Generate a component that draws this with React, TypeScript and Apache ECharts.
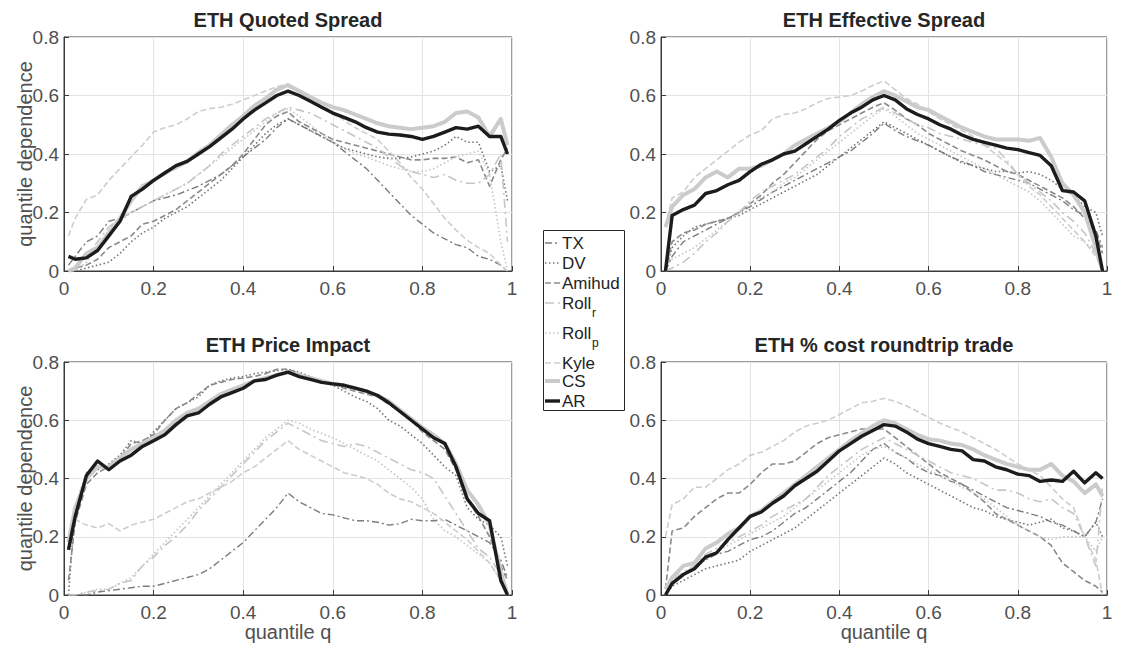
import React, { useEffect, useRef } from "react";
import * as echarts from "echarts";

// quantile grid shared by every series
const Q = [0.01, 0.025, 0.05, 0.075, 0.1, 0.125, 0.15, 0.175, 0.2, 0.225, 0.25, 0.275, 0.3, 0.325, 0.35, 0.375, 0.4, 0.425, 0.45, 0.475, 0.5, 0.525, 0.55, 0.575, 0.6, 0.625, 0.65, 0.675, 0.7, 0.725, 0.75, 0.775, 0.8, 0.825, 0.85, 0.875, 0.9, 0.925, 0.95, 0.975, 0.99];

const SERIES_NAMES = ["TX", "DV", "Amihud", "Roll_r", "Roll_p", "Kyle", "CS", "AR"];
const PANEL_TITLES = ["ETH Quoted Spread", "ETH Effective Spread", "ETH Price Impact", "ETH % cost roundtrip trade"];
const X_TICKS = [0, 0.2, 0.4, 0.6, 0.8, 1];
const Y_TICKS = [0, 0.2, 0.4, 0.6, 0.8];

// ---- ETH Quoted Spread
const quotedTX = [0.02, 0.05, 0.1, 0.12, 0.17, 0.18, 0.2, 0.22, 0.24, 0.25, 0.26, 0.275, 0.29, 0.31, 0.33, 0.36, 0.39, 0.42, 0.45, 0.49, 0.52, 0.5, 0.48, 0.46, 0.44, 0.41, 0.38, 0.35, 0.31, 0.27, 0.23, 0.19, 0.16, 0.13, 0.11, 0.09, 0.08, 0.05, 0.04, 0.02, 0.0];
const quotedDV = [0.0, 0.0, 0.01, 0.02, 0.03, 0.06, 0.1, 0.13, 0.15, 0.18, 0.2, 0.22, 0.25, 0.28, 0.31, 0.35, 0.39, 0.43, 0.47, 0.5, 0.52, 0.5, 0.48, 0.46, 0.44, 0.42, 0.41, 0.4, 0.39, 0.385, 0.385, 0.39, 0.4, 0.41, 0.43, 0.46, 0.44, 0.44, 0.34, 0.36, 0.24];
const quotedAmihud = [0.0, 0.01, 0.02, 0.04, 0.08, 0.1, 0.12, 0.16, 0.17, 0.19, 0.21, 0.24, 0.27, 0.3, 0.33, 0.36, 0.4, 0.45, 0.5, 0.53, 0.545, 0.51, 0.49, 0.47, 0.45, 0.44, 0.43, 0.42, 0.41, 0.4, 0.39, 0.38, 0.38, 0.385, 0.385, 0.39, 0.37, 0.38, 0.29, 0.38, 0.42];
const quotedRollR = [0.0, 0.01, 0.05, 0.1, 0.15, 0.18, 0.2, 0.22, 0.24, 0.26, 0.28, 0.3, 0.33, 0.36, 0.4, 0.43, 0.46, 0.49, 0.52, 0.54, 0.56, 0.55, 0.54, 0.52, 0.5, 0.48, 0.46, 0.44, 0.42, 0.39, 0.36, 0.34, 0.33, 0.32, 0.33, 0.31, 0.3, 0.3, 0.33, 0.4, 0.1];
const quotedRollP = [0.0, 0.0, 0.03, 0.08, 0.14, 0.17, 0.2, 0.22, 0.24, 0.26, 0.28, 0.3, 0.33, 0.36, 0.39, 0.42, 0.45, 0.48, 0.51, 0.54, 0.555, 0.53, 0.5, 0.47, 0.44, 0.42, 0.4, 0.39, 0.375, 0.36, 0.35, 0.34, 0.34, 0.35, 0.37, 0.39, 0.4, 0.41, 0.33, 0.1, 0.0];
const quotedKyle = [0.12, 0.18, 0.245, 0.26, 0.31, 0.35, 0.39, 0.43, 0.475, 0.49, 0.5, 0.52, 0.545, 0.555, 0.56, 0.57, 0.585, 0.6, 0.615, 0.63, 0.64, 0.615, 0.585, 0.565, 0.545, 0.515, 0.49, 0.47, 0.45, 0.41, 0.37, 0.32, 0.28, 0.23, 0.18, 0.14, 0.105, 0.08, 0.06, 0.02, 0.0];
const quotedCS = [0.0, 0.01, 0.06, 0.08, 0.13, 0.18, 0.24, 0.29, 0.31, 0.335, 0.355, 0.375, 0.405, 0.43, 0.465, 0.5, 0.53, 0.565, 0.59, 0.62, 0.635, 0.615, 0.595, 0.575, 0.56, 0.55, 0.535, 0.52, 0.505, 0.495, 0.49, 0.485, 0.49, 0.495, 0.51, 0.54, 0.545, 0.525, 0.46, 0.52, 0.43];
const quotedAR = [0.05, 0.04, 0.045, 0.07, 0.12, 0.17, 0.255, 0.28, 0.31, 0.335, 0.36, 0.375, 0.4, 0.425, 0.455, 0.485, 0.52, 0.55, 0.575, 0.6, 0.615, 0.6, 0.58, 0.56, 0.54, 0.525, 0.51, 0.49, 0.475, 0.468, 0.465, 0.46, 0.45, 0.46, 0.475, 0.49, 0.485, 0.495, 0.46, 0.46, 0.4];

// ---- ETH Effective Spread
const effTX = [0.0, 0.05, 0.1, 0.12, 0.14, 0.16, 0.18, 0.2, 0.22, 0.245, 0.27, 0.29, 0.31, 0.33, 0.35, 0.37, 0.39, 0.41, 0.44, 0.47, 0.505, 0.48, 0.46, 0.445, 0.43, 0.41, 0.39, 0.375, 0.36, 0.34, 0.33, 0.32, 0.31, 0.3, 0.28, 0.26, 0.24, 0.21, 0.19, 0.14, 0.08];
const effDV = [0.0, 0.08, 0.12, 0.15, 0.16, 0.17, 0.18, 0.19, 0.21, 0.23, 0.25, 0.27, 0.29, 0.31, 0.33, 0.36, 0.39, 0.42, 0.45, 0.48, 0.51, 0.49, 0.47, 0.45, 0.43, 0.41, 0.39, 0.37, 0.36, 0.35, 0.34, 0.34, 0.335, 0.34, 0.33, 0.31, 0.28, 0.26, 0.22, 0.2, 0.12];
const effAmihud = [0.0, 0.1, 0.13, 0.14, 0.16, 0.17, 0.18, 0.2, 0.23, 0.26, 0.3, 0.33, 0.37, 0.41, 0.45, 0.48, 0.5, 0.52, 0.54, 0.56, 0.575, 0.55, 0.52, 0.5, 0.47, 0.45, 0.43, 0.41, 0.395, 0.38, 0.36, 0.34, 0.33, 0.31, 0.29, 0.27, 0.25, 0.22, 0.18, 0.13, 0.06];
const effRollR = [0.0, 0.01, 0.03, 0.06, 0.1, 0.13, 0.17, 0.2, 0.24, 0.27, 0.29, 0.31, 0.33, 0.36, 0.39, 0.42, 0.46, 0.49, 0.52, 0.54, 0.56, 0.54, 0.52, 0.5, 0.49, 0.47, 0.46, 0.45, 0.44, 0.43, 0.42, 0.38, 0.33, 0.3, 0.27, 0.24, 0.2, 0.17, 0.13, 0.06, 0.0];
const effRollP = [0.02, 0.04, 0.06, 0.08, 0.11, 0.14, 0.17, 0.2, 0.23, 0.25, 0.27, 0.3, 0.32, 0.35, 0.38, 0.41, 0.44, 0.47, 0.5, 0.53, 0.555, 0.53, 0.5, 0.47, 0.45, 0.43, 0.41, 0.39, 0.37, 0.35, 0.33, 0.31, 0.29, 0.27, 0.24, 0.2, 0.16, 0.12, 0.1, 0.06, 0.0];
const effKyle = [0.15, 0.25, 0.27, 0.32, 0.35, 0.38, 0.41, 0.44, 0.465, 0.48, 0.52, 0.535, 0.54, 0.555, 0.575, 0.59, 0.595, 0.6, 0.615, 0.635, 0.65, 0.62, 0.59, 0.57, 0.545, 0.52, 0.5, 0.48, 0.46, 0.43, 0.4, 0.37, 0.33, 0.29, 0.26, 0.22, 0.18, 0.14, 0.1, 0.05, 0.0];
const effCS = [0.15, 0.22, 0.26, 0.28, 0.32, 0.34, 0.32, 0.35, 0.35, 0.36, 0.38, 0.4, 0.43, 0.45, 0.47, 0.49, 0.51, 0.54, 0.57, 0.595, 0.615, 0.6, 0.58, 0.56, 0.55, 0.53, 0.51, 0.49, 0.475, 0.46, 0.45, 0.45, 0.45, 0.445, 0.455, 0.39, 0.3, 0.26, 0.2, 0.08, 0.0];
const effAR = [0.0, 0.19, 0.21, 0.225, 0.265, 0.275, 0.295, 0.31, 0.34, 0.365, 0.38, 0.4, 0.41, 0.435, 0.46, 0.485, 0.515, 0.54, 0.56, 0.585, 0.6, 0.585, 0.555, 0.535, 0.52, 0.5, 0.485, 0.465, 0.45, 0.44, 0.43, 0.42, 0.415, 0.405, 0.395, 0.36, 0.275, 0.27, 0.24, 0.12, 0.0];

// ---- ETH Price Impact
const impTX = [0.0, 0.0, 0.0, 0.01, 0.015, 0.02, 0.025, 0.03, 0.03, 0.04, 0.05, 0.06, 0.07, 0.09, 0.12, 0.15, 0.18, 0.22, 0.26, 0.3, 0.35, 0.32, 0.3, 0.28, 0.275, 0.265, 0.255, 0.255, 0.25, 0.24, 0.245, 0.26, 0.255, 0.255, 0.26, 0.24, 0.22, 0.2, 0.18, 0.12, 0.06];
const impDV = [0.0, 0.3, 0.42, 0.43, 0.45, 0.48, 0.53, 0.52, 0.56, 0.6, 0.64, 0.66, 0.68, 0.72, 0.735, 0.745, 0.75, 0.76, 0.765, 0.77, 0.775, 0.765, 0.75, 0.73, 0.72, 0.7, 0.68, 0.665, 0.64, 0.6, 0.58, 0.55, 0.52, 0.48, 0.44, 0.41, 0.3, 0.26, 0.24, 0.2, 0.1];
const impAmihud = [0.05, 0.25, 0.38, 0.42, 0.44, 0.47, 0.52, 0.53, 0.55, 0.6, 0.64, 0.66, 0.69, 0.72, 0.73, 0.74, 0.745, 0.75, 0.76, 0.775, 0.775, 0.76, 0.745, 0.73, 0.725, 0.71, 0.7, 0.69, 0.68, 0.655, 0.63, 0.6, 0.56, 0.53, 0.5, 0.43, 0.33, 0.27, 0.2, 0.1, 0.05];
const impRollR = [0.0, 0.0, 0.01, 0.015, 0.02, 0.04, 0.05, 0.1, 0.13, 0.17, 0.2, 0.24, 0.29, 0.33, 0.37, 0.41, 0.45, 0.49, 0.53, 0.56, 0.59, 0.57, 0.55, 0.53, 0.52, 0.51, 0.52, 0.51, 0.49, 0.47, 0.45, 0.43, 0.42, 0.4, 0.34, 0.28, 0.22, 0.16, 0.13, 0.07, 0.02];
const impRollP = [0.0, 0.0, 0.01, 0.02, 0.02, 0.04, 0.06, 0.1, 0.14, 0.18, 0.22, 0.26, 0.3, 0.34, 0.38, 0.42, 0.46, 0.5, 0.54, 0.57, 0.6, 0.59, 0.57, 0.555, 0.54, 0.52, 0.5, 0.48, 0.46, 0.43, 0.4, 0.37, 0.33, 0.26, 0.22, 0.2, 0.17, 0.14, 0.11, 0.05, 0.0];
const impKyle = [0.2, 0.26, 0.24, 0.23, 0.245, 0.22, 0.24, 0.25, 0.26, 0.28, 0.3, 0.32, 0.33, 0.35, 0.37, 0.39, 0.42, 0.44, 0.47, 0.5, 0.53, 0.5, 0.48, 0.46, 0.44, 0.42, 0.41, 0.4, 0.38, 0.35, 0.33, 0.32, 0.3, 0.28, 0.25, 0.22, 0.19, 0.15, 0.11, 0.05, 0.0];
const impCS = [0.18, 0.3, 0.4, 0.44, 0.44, 0.47, 0.5, 0.52, 0.54, 0.565, 0.6, 0.625, 0.64, 0.665, 0.69, 0.705, 0.72, 0.735, 0.745, 0.755, 0.765, 0.755, 0.745, 0.735, 0.725, 0.72, 0.71, 0.7, 0.685, 0.665, 0.635, 0.605, 0.575, 0.55, 0.52, 0.45, 0.36, 0.31, 0.24, 0.08, 0.0];
const impAR = [0.155, 0.27, 0.41, 0.46, 0.43, 0.46, 0.48, 0.51, 0.53, 0.55, 0.585, 0.615, 0.625, 0.655, 0.68, 0.695, 0.71, 0.735, 0.74, 0.755, 0.765, 0.75, 0.74, 0.73, 0.725, 0.72, 0.71, 0.7, 0.685, 0.66, 0.63, 0.6, 0.57, 0.54, 0.52, 0.44, 0.33, 0.28, 0.255, 0.05, 0.0];

// ---- ETH % cost roundtrip trade
const costTX = [0.0, 0.04, 0.07, 0.1, 0.12, 0.14, 0.15, 0.17, 0.19, 0.2, 0.22, 0.25, 0.28, 0.3, 0.33, 0.36, 0.39, 0.42, 0.46, 0.5, 0.52, 0.49, 0.47, 0.44, 0.42, 0.41, 0.39, 0.38, 0.36, 0.34, 0.32, 0.3, 0.29, 0.28, 0.27, 0.25, 0.24, 0.22, 0.2, 0.25, 0.33];
const costDV = [0.0, 0.03, 0.05, 0.07, 0.09, 0.1, 0.11, 0.12, 0.15, 0.17, 0.19, 0.21, 0.23, 0.26, 0.29, 0.32, 0.35, 0.38, 0.41, 0.44, 0.47, 0.45, 0.42, 0.4, 0.38, 0.36, 0.34, 0.32, 0.3, 0.29, 0.27, 0.26, 0.25, 0.24, 0.25, 0.26, 0.23, 0.22, 0.2, 0.25, 0.2];
const costAmihud = [0.02, 0.22, 0.23, 0.27, 0.3, 0.33, 0.35, 0.35, 0.38, 0.42, 0.45, 0.45, 0.46, 0.49, 0.52, 0.54, 0.55, 0.56, 0.57, 0.57, 0.57, 0.54, 0.51, 0.48, 0.45, 0.42, 0.4, 0.38, 0.35, 0.32, 0.28, 0.26, 0.24, 0.22, 0.2, 0.17, 0.11, 0.08, 0.05, 0.03, 0.01];
const costRollR = [0.0, 0.05, 0.08, 0.1, 0.14, 0.16, 0.18, 0.2, 0.22, 0.24, 0.27, 0.29, 0.31, 0.33, 0.37, 0.41, 0.44, 0.47, 0.5, 0.52, 0.54, 0.52, 0.5, 0.48, 0.46, 0.44, 0.42, 0.41, 0.4, 0.38, 0.36, 0.36, 0.35, 0.33, 0.32, 0.33, 0.3, 0.28, 0.2, 0.1, 0.38];
const costRollP = [0.0, 0.04, 0.07, 0.09, 0.12, 0.15, 0.17, 0.19, 0.21, 0.23, 0.25, 0.27, 0.3, 0.33, 0.36, 0.39, 0.42, 0.45, 0.48, 0.5, 0.51, 0.49, 0.47, 0.45, 0.43, 0.41, 0.39, 0.37, 0.35, 0.33, 0.3, 0.27, 0.24, 0.22, 0.2, 0.19, 0.2, 0.2, 0.2, 0.15, 0.2];
const costKyle = [0.2, 0.31, 0.33, 0.37, 0.37, 0.4, 0.43, 0.45, 0.48, 0.49, 0.51, 0.53, 0.56, 0.58, 0.59, 0.6, 0.62, 0.64, 0.66, 0.665, 0.675, 0.665, 0.65, 0.63, 0.61, 0.59, 0.575, 0.56, 0.54, 0.52, 0.5, 0.475, 0.45, 0.43, 0.41, 0.37, 0.33, 0.3, 0.2, 0.12, 0.0];
const costCS = [0.02, 0.06, 0.1, 0.11, 0.16, 0.18, 0.21, 0.23, 0.27, 0.29, 0.32, 0.35, 0.38, 0.41, 0.44, 0.47, 0.5, 0.53, 0.555, 0.58, 0.6, 0.59, 0.57, 0.55, 0.535, 0.53, 0.52, 0.515, 0.5, 0.48, 0.465, 0.45, 0.44, 0.43, 0.43, 0.45, 0.41, 0.39, 0.35, 0.38, 0.34];
const costAR = [0.0, 0.04, 0.07, 0.09, 0.13, 0.145, 0.19, 0.23, 0.27, 0.285, 0.315, 0.34, 0.375, 0.4, 0.425, 0.46, 0.495, 0.52, 0.545, 0.565, 0.585, 0.58, 0.56, 0.535, 0.52, 0.51, 0.5, 0.495, 0.465, 0.46, 0.44, 0.43, 0.415, 0.41, 0.39, 0.395, 0.39, 0.425, 0.385, 0.42, 0.4];

const PANEL_DATA = [
  [quotedTX, quotedDV, quotedAmihud, quotedRollR, quotedRollP, quotedKyle, quotedCS, quotedAR],
  [effTX, effDV, effAmihud, effRollR, effRollP, effKyle, effCS, effAR],
  [impTX, impDV, impAmihud, impRollR, impRollP, impKyle, impCS, impAR],
  [costTX, costDV, costAmihud, costRollR, costRollP, costKyle, costCS, costAR],
];

const LINE_STYLES: Record<string, { color: string; width: number; dash: number[] | null }> = {
  TX: { color: "#7c7c7c", width: 1.4, dash: [7, 3, 2, 3] },
  DV: { color: "#747474", width: 1.6, dash: [1.5, 2.5] },
  Amihud: { color: "#8a8a8a", width: 1.6, dash: [6, 3] },
  Roll_r: { color: "#c6c6c6", width: 1.6, dash: [9, 4, 2, 4] },
  Roll_p: { color: "#c4c4c4", width: 1.6, dash: [1.5, 2.5] },
  Kyle: { color: "#cdcdcd", width: 1.6, dash: [6, 3] },
  CS: { color: "#cbcbcb", width: 4, dash: null },
  AR: { color: "#1c1c1c", width: 3.4, dash: null },
};

const GRIDS = [
  { left: 64, top: 37, width: 448, height: 234 },
  { left: 661, top: 37, width: 446, height: 234 },
  { left: 64, top: 362, width: 448, height: 233 },
  { left: 661, top: 362, width: 446, height: 233 },
];

const FONT = "'Liberation Sans', Arial, Helvetica, sans-serif";

export default function App() {
  const ref = useRef<HTMLDivElement>(null);

  useEffect(() => {
    if (!ref.current) return;
    const chart = echarts.init(ref.current, undefined, { renderer: "svg" });

    const grid = GRIDS.map((g) => ({
      ...g,
      show: true,
      borderColor: "#3a3a3a",
      borderWidth: 1,
      backgroundColor: "transparent",
      containLabel: false,
    }));

    const xAxis = GRIDS.map((_, i) => ({
      type: "value",
      gridIndex: i,
      min: X_TICKS[0],
      max: X_TICKS[X_TICKS.length - 1],
      interval: 0.2,
      axisLine: { show: true, lineStyle: { color: "#3a3a3a", width: 1 } },
      axisTick: { show: true, inside: true, length: 5, lineStyle: { color: "#3a3a3a" } },
      axisLabel: {
        show: true,
        fontSize: 19,
        color: "#505050",
        fontFamily: FONT,
        margin: 8,
        formatter: (v: number) => String(Math.round(v * 10) / 10),
      },
      splitLine: { show: true, lineStyle: { color: "#e3e3e3", width: 1 } },
    }));

    const yAxis = GRIDS.map((_, i) => ({
      type: "value",
      gridIndex: i,
      min: Y_TICKS[0],
      max: Y_TICKS[Y_TICKS.length - 1],
      interval: 0.2,
      axisLine: { show: true, lineStyle: { color: "#3a3a3a", width: 1 } },
      axisTick: { show: true, inside: true, length: 5, lineStyle: { color: "#3a3a3a" } },
      axisLabel: {
        show: true,
        fontSize: 19,
        color: "#505050",
        fontFamily: FONT,
        margin: 5,
        formatter: (v: number) => String(Math.round(v * 10) / 10),
      },
      splitLine: { show: true, lineStyle: { color: "#e3e3e3", width: 1 } },
    }));

    const series: any[] = [];
    PANEL_DATA.forEach((panel, pi) => {
      panel.forEach((vals, si) => {
        const name = SERIES_NAMES[si];
        const st = LINE_STYLES[name];
        series.push({
          type: "line",
          name,
          xAxisIndex: pi,
          yAxisIndex: pi,
          data: Q.map((q, k) => [q, vals[k]]),
          showSymbol: false,
          symbol: "none",
          smooth: false,
          z: 2 + si,
          lineStyle: {
            color: st.color,
            width: st.width,
            type: st.dash ? st.dash : "solid",
            cap: "butt",
            join: "round",
          },
          emphasis: { disabled: true },
        });
      });
    });

    const graphic: any[] = [];
    // titles
    GRIDS.forEach((g, i) => {
      graphic.push({
        type: "text",
        x: g.left + g.width / 2,
        y: g.top - 17,
        style: {
          text: PANEL_TITLES[i],
          align: "center",
          verticalAlign: "middle",
          fontSize: 20,
          fontWeight: "bold",
          fontFamily: FONT,
          fill: "#262626",
        },
      });
    });
    // y-axis labels (left panels)
    [0, 2].forEach((i) => {
      const g = GRIDS[i];
      graphic.push({
        type: "text",
        x: 25,
        y: g.top + g.height / 2,
        rotation: Math.PI / 2,
        style: {
          text: "quantile dependence",
          align: "center",
          verticalAlign: "middle",
          fontSize: 20,
          fontFamily: FONT,
          fill: "#505050",
        },
      });
    });
    // x-axis labels (bottom panels)
    [2, 3].forEach((i) => {
      const g = GRIDS[i];
      graphic.push({
        type: "text",
        x: g.left + g.width / 2,
        y: 632,
        style: {
          text: "quantile q",
          align: "center",
          verticalAlign: "middle",
          fontSize: 20,
          fontFamily: FONT,
          fill: "#505050",
        },
      });
    });

    // legend
    const LEG = { x: 543.5, y: 230.5, w: 81, h: 180 };
    graphic.push({
      type: "rect",
      shape: { x: LEG.x, y: LEG.y, width: LEG.w, height: LEG.h },
      style: { fill: "#ffffff", stroke: "#262626", lineWidth: 1 },
      z: 10,
    });
    const rowY = [243, 263, 283, 303, 333, 363, 381, 401];
    const labels = ["TX", "DV", "Amihud", "Roll", "Roll", "Kyle", "CS", "AR"];
    const subs = ["", "", "", "r", "p", "", "", ""];
    SERIES_NAMES.forEach((name, i) => {
      const st = LINE_STYLES[name];
      graphic.push({
        type: "line",
        shape: { x1: 545, y1: rowY[i], x2: 560, y2: rowY[i] },
        style: {
          stroke: st.color,
          lineWidth: st.width,
          lineDash: st.dash ? st.dash : null,
        },
        z: 11,
      });
      graphic.push({
        type: "text",
        x: 562,
        y: rowY[i],
        style: {
          text: labels[i],
          align: "left",
          verticalAlign: "middle",
          fontSize: 17,
          fontFamily: FONT,
          fill: "#1e1e1e",
        },
        z: 11,
      });
      if (subs[i]) {
        graphic.push({
          type: "text",
          x: 592,
          y: rowY[i] + 10,
          style: {
            text: subs[i],
            align: "left",
            verticalAlign: "middle",
            fontSize: 12,
            fontFamily: FONT,
            fill: "#1e1e1e",
          },
          z: 11,
        });
      }
    });

    chart.setOption({
      animation: false,
      backgroundColor: "#ffffff",
      grid,
      xAxis,
      yAxis,
      series,
      graphic,
    });

    return () => {
      chart.dispose();
    };
  }, []);

  return (
    <div
      ref={ref}
      style={{ position: "fixed", left: 0, top: 0, width: 1121, height: 649, background: "#fff" }}
    />
  );
}
